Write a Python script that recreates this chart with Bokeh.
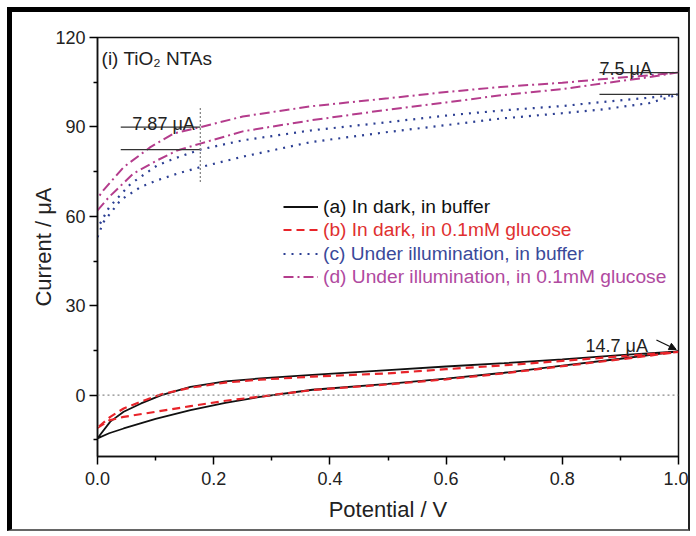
from bokeh.plotting import figure
from bokeh.models import (Range1d, Legend, LegendItem, Label, Span, Arrow, NormalHead,
                          FixedTicker, PrintfTickFormatter)
from bokeh.embed import file_html
from bokeh.resources import INLINE

# ---------------- data ----------------
# (a) In dark, in buffer  (forward branch then return branch)
pot_a = [0, 0.02, 0.045, 0.1, 0.16, 0.22, 0.28, 0.37, 0.5, 0.6, 0.7, 0.8, 0.9, 1.0,
         0.9, 0.8, 0.7, 0.6, 0.5, 0.37, 0.28, 0.22, 0.16, 0.11, 0.075, 0.045, 0.022, 0]
cur_a = [-14.5, -12.8, -11.2, -8.0, -5.0, -2.6, -0.6, 1.8, 3.8, 5.5, 7.5, 9.9, 12.2, 14.7,
         13.4, 12.0, 10.7, 9.6, 8.4, 6.8, 5.6, 4.6, 2.8, 0.0, -2.8, -5.6, -8.9, -14.5]

# (b) In dark, in 0.1mM glucose
pot_b = [0, 0.02, 0.045, 0.1, 0.16, 0.22, 0.28, 0.37, 0.5, 0.6, 0.7, 0.8, 0.9, 1.0,
         0.9, 0.8, 0.7, 0.6, 0.5, 0.37, 0.28, 0.22, 0.16, 0.11, 0.075, 0.045, 0.022, 0]
cur_b = [-11.0, -8.5, -7.3, -5.6, -3.7, -1.9, -0.5, 1.7, 3.6, 5.3, 7.3, 9.7, 12.0, 14.5,
         13.0, 11.5, 10.0, 8.7, 7.3, 6.2, 5.2, 4.2, 2.5, 0.3, -2.2, -4.5, -7.3, -11.0]

# (c) Under illumination, in buffer
pot_c = [0, 0.01, 0.04, 0.074, 0.103, 0.137, 0.177, 0.25, 0.367, 0.5, 0.6, 0.694, 0.8, 0.866, 0.95, 1.0,
         0.95, 0.866, 0.8, 0.694, 0.6, 0.5, 0.367, 0.25, 0.177, 0.131, 0.103, 0.057, 0.02, 0]
cur_c = [53.0, 58.0, 65.5, 69.8, 72.1, 74.3, 76.5, 80.0, 84.9, 88.3, 90.6, 92.8, 94.6, 95.8, 98.0, 100.9,
         99.8, 98.3, 97.0, 95.5, 93.8, 91.6, 88.8, 85.5, 82.4, 79.3, 77.1, 70.9, 63.0, 56.0]

# (d) Under illumination, in 0.1mM glucose
pot_d = [0, 0.02, 0.062, 0.103, 0.137, 0.177, 0.25, 0.367, 0.5, 0.6, 0.694, 0.8, 0.866, 0.95, 1.0,
         0.95, 0.866, 0.8, 0.694, 0.6, 0.5, 0.367, 0.25, 0.177, 0.131, 0.091, 0.045, 0.01, 0]
cur_d = [62.0, 66.5, 74.4, 78.8, 82.1, 84.4, 88.5, 92.2, 95.8, 98.2, 100.6, 102.7, 104.5, 106.7, 108.3,
         107.3, 106.0, 104.8, 103.4, 101.7, 99.6, 96.9, 93.5, 89.9, 87.8, 83.2, 76.5, 68.7, 66.0]

labels = ["(a) In dark, in buffer", "(b) In dark, in 0.1mM glucose",
          "(c) Under illumination, in buffer", "(d) Under illumination, in 0.1mM glucose"]

x_ticks = [0.0, 0.2, 0.4, 0.6, 0.8, 1.0]
x_minor = [0.1, 0.3, 0.5, 0.7, 0.9]
y_ticks = [0, 30, 60, 90, 120]
y_minor = [-15, 15, 45, 75, 105]

# annotation values
diff_left_x = [0.04, 0.177]
diff_left_y = [89.9, 82.4]
diff_left_text = "7.87 μA"
diff_right_x = [0.864, 1.0]
diff_right_y = [108.2, 100.9]
diff_right_text = "7.5 μA"
end_text = "14.7 μA"
end_point = (1.0, 14.7)

FONT = "Liberation Sans"
COL = ["#111111", "#e8242a", "#2c3f93", "#b43c8c"]
TXT = ["#111111", "#e03030", "#3a4a9a", "#b04aa0"]

p = figure(width=683, height=524, output_backend="svg", toolbar_location=None,
           x_range=Range1d(0, 1.0), y_range=Range1d(-20.6, 120),
           min_border_left=85, min_border_top=25, min_border_right=17, min_border_bottom=80)
p.styles = {"margin-left": "7px", "margin-top": "7px",
            "border-top": "5px solid #000", "border-left": "5px solid #000",
            "border-right": "2px solid #222", "border-bottom": "2px solid #666"}
p.xgrid.visible = False
p.ygrid.visible = False
p.outline_line_color = "#111111"
p.outline_line_width = 1.5
p.background_fill_color = "white"
p.border_fill_color = "white"

for ax in (p.xaxis[0], p.yaxis[0]):
    ax.axis_line_width = 1.5
    ax.axis_line_color = "#111111"
    ax.major_tick_line_width = 1.5
    ax.minor_tick_line_width = 1.5
    ax.major_tick_in = 0
    ax.major_tick_out = 8
    ax.minor_tick_in = 0
    ax.minor_tick_out = 4
    ax.major_label_text_font = FONT
    ax.major_label_text_font_size = "18px"
    ax.major_label_text_color = "#222222"
    ax.axis_label_text_font = FONT
    ax.axis_label_text_font_size = "22px"
    ax.axis_label_text_font_style = "normal"
    ax.axis_label_text_color = "#222222"

p.xaxis.ticker = FixedTicker(ticks=x_ticks, minor_ticks=x_minor)
p.yaxis.ticker = FixedTicker(ticks=y_ticks, minor_ticks=y_minor)
p.xaxis.formatter = PrintfTickFormatter(format="%.1f")
p.yaxis.formatter = PrintfTickFormatter(format="%d")
p.xaxis.axis_label = "Potential / V"
p.yaxis.axis_label = "Current / μA"
p.xaxis.major_label_standoff = 7
p.xaxis.axis_label_standoff = 9
p.yaxis.major_label_standoff = 4
p.yaxis.axis_label_standoff = -4

p.add_layout(Span(location=0, dimension="width", line_color="#888888",
                  line_dash="2 3", line_width=1.2))

ra = p.line(pot_a, cur_a, line_color=COL[0], line_width=1.8)
rb = p.line(pot_b, cur_b, line_color=COL[1], line_width=2.2, line_dash="8 5")
rc = p.line(pot_c, cur_c, line_color=COL[2], line_width=2.2, line_dash="2 6")
rd = p.line(pot_d, cur_d, line_color=COL[3], line_width=2.0, line_dash="10 4 2 4")

rows_y = [238, 215, 191, 168]
for r, lab, tc, ly in zip([ra, rb, rc, rd], labels, TXT, rows_y):
    lg = Legend(items=[LegendItem(label=lab, renderers=[r])], location=(186, ly),
                padding=0, margin=0, spacing=0, border_line_alpha=0,
                background_fill_alpha=0, glyph_width=35, glyph_height=23,
                label_height=23, label_standoff=5,
                label_text_font=FONT, label_text_font_size="19.2px",
                label_text_color=tc)
    p.add_layout(lg)

# annotation lines
p.segment(x0=[diff_left_x[0], diff_left_x[0]], y0=diff_left_y,
          x1=[diff_left_x[1], diff_left_x[1]], y1=diff_left_y,
          line_color="#333333", line_width=1.3)
p.segment(x0=[diff_left_x[1]], y0=[71.5], x1=[diff_left_x[1]], y1=[96.6],
          line_color="#888888", line_width=1.3, line_dash="2 2")
p.segment(x0=[diff_right_x[0], diff_right_x[0]], y0=diff_right_y,
          x1=[diff_right_x[1], diff_right_x[1]], y1=diff_right_y,
          line_color="#333333", line_width=1.3)

p.add_layout(Label(x=0.06, y=91.0, text=diff_left_text, text_font=FONT,
                   text_font_size="18px", text_color="#222222", text_baseline="alphabetic"))
p.add_layout(Label(x=0.864, y=109.3, text=diff_right_text, text_font=FONT,
                   text_font_size="18px", text_color="#222222", text_baseline="alphabetic"))
p.add_layout(Label(x=0.84, y=16.5, text=end_text, text_font=FONT,
                   text_font_size="18px", text_color="#222222", text_baseline="alphabetic"))
p.add_layout(Arrow(end=NormalHead(size=7, fill_color="#111111", line_color="#111111"),
                   x_start=0.962, y_start=18.5, x_end=end_point[0] - 0.004, y_end=end_point[1] + 0.6,
                   line_color="#111111", line_width=1.3))
p.add_layout(Label(x=0.007, y=113.0, text="(i) TiO₂ NTAs", text_font=FONT,
                   text_font_size="19px", text_color="#222222", text_baseline="middle"))

open("out.html", "w").write(file_html(p, INLINE))
